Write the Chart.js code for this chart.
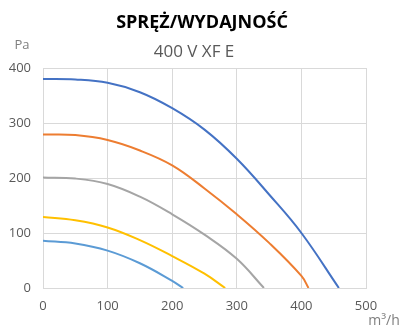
<!DOCTYPE html>
<html>
<head>
<meta charset="utf-8">
<script src="https://cdn.jsdelivr.net/npm/chart.js@4"></script>
<style>
  html, body { margin: 0; padding: 0; background: #fff; }
  #wrap { width: 415px; height: 330px; }
</style>
</head>
<body>
<div id="wrap"><canvas id="chart" width="415" height="330"></canvas></div>
<script>
// ---- data (flow m3/h, pressure Pa) ----
const flow1 = [0, 50, 100, 150, 200, 250, 300, 350, 400, 458];
const pres1 = [380, 379, 373, 356, 327, 288, 235, 170, 100, 0];

const flow2 = [0, 50, 100, 150, 200, 250, 300, 350, 400, 411];
const pres2 = [279, 278, 269, 250, 223, 181, 134, 82, 22, 0];

const flow3 = [0, 50, 100, 150, 200, 250, 300, 342];
const pres3 = [201, 199, 189, 166, 134, 97, 53, 0];

const flow4 = [0, 50, 100, 150, 200, 250, 282];
const pres4 = [129, 123, 110, 87, 58, 26, 0];

const flow5 = [0, 50, 100, 150, 200, 217];
const pres5 = [86, 81, 68, 45, 13, 0];

const seriesColors = ['#4472C4', '#ED7D31', '#A5A5A5', '#FFC000', '#5B9BD5'];
const xTicks = [0, 100, 200, 300, 400, 500];
const yTicks = [0, 100, 200, 300, 400];

const titleText = 'SPRĘŻ/WYDAJNOŚĆ';
const subtitleText = '400 V XF E';
const yUnit = 'Pa';
const xUnit = 'm³/h';

function toPoints(xs, ys) {
  return xs.map((x, i) => ({ x: x, y: ys[i] }));
}

const FONT = '"Open Sans", "Noto Sans", sans-serif';

// title, subtitle and unit labels
const labelsPlugin = {
  id: 'labels',
  afterDraw(chart) {
    const c = chart.ctx;
    c.save();
    c.textAlign = 'center';
    c.textBaseline = 'middle';
    c.fillStyle = '#000';
    c.font = 'bold 18px ' + FONT;
    c.fillText(titleText, 202, 23);
    c.fillStyle = '#595959';
    c.font = '17px ' + FONT;
    c.fillText(subtitleText, 194, 52);
    c.font = '13px ' + FONT;
    c.fillStyle = '#7f7f7f';
    c.fillText(yUnit, 22, 45);
    c.font = '14px ' + FONT;
    c.fillText(xUnit, 384, 321);
    c.restore();
  }
};

const datasets = [
  [flow1, pres1], [flow2, pres2], [flow3, pres3], [flow4, pres4], [flow5, pres5]
].map((s, i) => ({
  data: toPoints(s[0], s[1]),
  borderColor: seriesColors[i],
  backgroundColor: seriesColors[i],
  borderWidth: 2,
  showLine: true,
  pointRadius: 0,
  tension: 0.4,
  fill: false,
}));

new Chart(document.getElementById('chart'), {
  type: 'scatter',
  data: { datasets },
  options: {
    responsive: false,
    animation: false,
    layout: { padding: { top: 68, left: 0, right: 49, bottom: 0 } },
    plugins: { legend: { display: false }, tooltip: { enabled: false } },
    scales: {
      x: {
        type: 'linear',
        min: 0, max: 500,
        afterBuildTicks: s => { s.ticks = xTicks.map(v => ({ value: v })); },
        afterFit: s => { s.height = 42; },
        grid: { color: '#D9D9D9', lineWidth: 1, drawTicks: false },
        border: { color: '#D9D9D9' },
        ticks: { color: '#595959', font: { family: FONT, size: 13 }, padding: 10, maxRotation: 0 }
      },
      y: {
        min: 0, max: 400,
        afterBuildTicks: s => { s.ticks = yTicks.map(v => ({ value: v })); },
        afterFit: s => { s.width = 43; },
        grid: { color: '#D9D9D9', lineWidth: 1, drawTicks: false },
        border: { color: '#D9D9D9' },
        ticks: { color: '#595959', font: { family: FONT, size: 13 }, padding: 12 }
      }
    }
  },
  plugins: [labelsPlugin]
});
</script>
</body>
</html>
